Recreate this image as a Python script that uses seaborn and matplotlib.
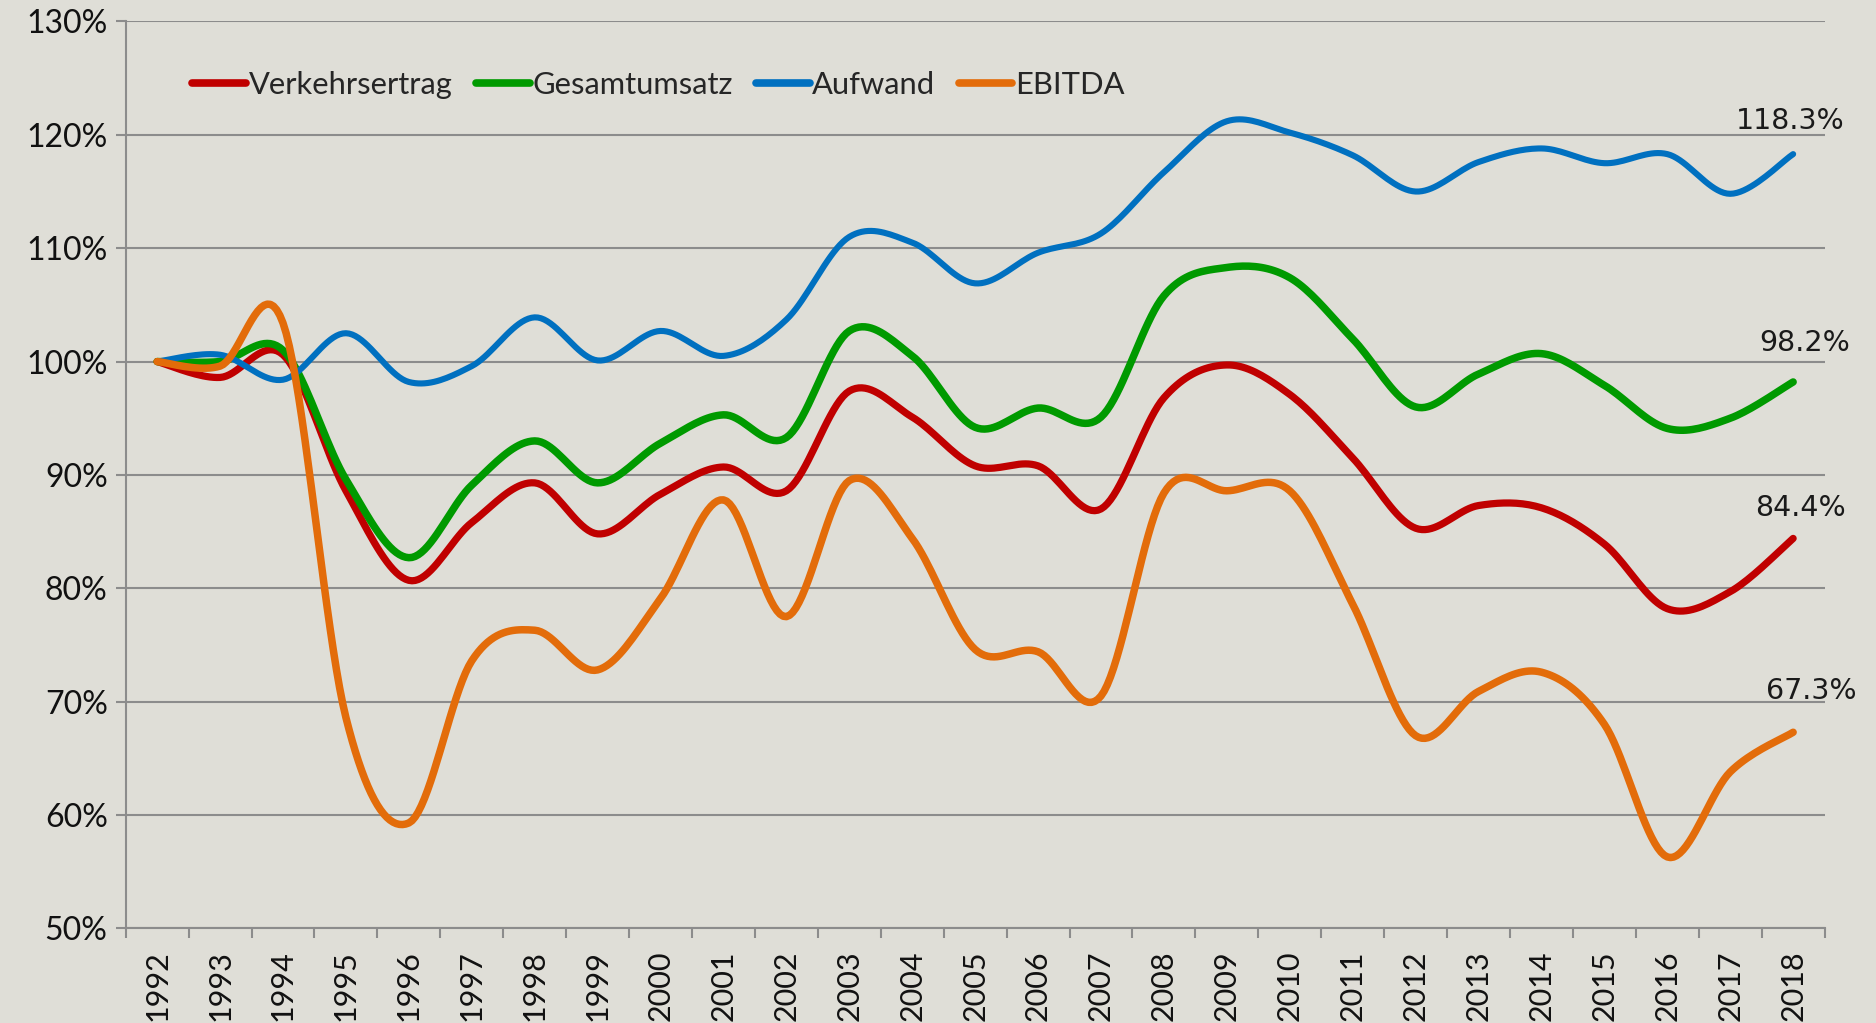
import numpy as np
import pandas as pd
import matplotlib
matplotlib.use("Agg")
import matplotlib.pyplot as plt
import seaborn as sns
from matplotlib.ticker import FixedLocator, FuncFormatter

# data (index, 1992 = 100%)
years = list(range(1992, 2019))
verkehrsertrag = [100.0, 98.6, 100.6, 88.6, 80.7, 85.8, 89.3, 84.8, 88.3, 90.7, 88.6, 97.4, 95.1, 90.8,
                  90.8, 87.0, 96.8, 99.7, 97.1, 91.5, 85.3, 87.3, 87.1, 83.9, 78.2, 79.7, 84.4]
gesamtumsatz = [100.0, 100.0, 101.0, 89.6, 82.7, 89.1, 93.0, 89.3, 92.8, 95.3, 93.3, 102.7, 100.5, 94.2,
                95.9, 95.1, 105.8, 108.3, 107.4, 102.0, 96.0, 98.9, 100.7, 97.9, 94.1, 95.0, 98.2]
aufwand = [100.0, 100.6, 98.4, 102.5, 98.2, 99.6, 103.9, 100.1, 102.7, 100.5, 103.7, 111.0, 110.5, 106.9,
           109.6, 111.3, 116.7, 121.2, 120.2, 118.2, 115.0, 117.6, 118.8, 117.5, 118.3, 114.8, 118.3]
ebitda = [100.0, 99.6, 103.4, 68.6, 59.3, 73.6, 76.3, 72.8, 79.1, 87.8, 77.5, 89.5, 84.4, 74.6,
          74.4, 70.5, 88.4, 88.6, 88.6, 78.6, 67.0, 70.9, 72.6, 68.0, 56.3, 63.8, 67.3]

series_names = ["Verkehrsertrag", "Gesamtumsatz", "Aufwand", "EBITDA"]
series_values = [verkehrsertrag, gesamtumsatz, aufwand, ebitda]
colors = ["#C00000", "#009A00", "#0070C0", "#E36C0A"]
widths = [5.2, 5.4, 4.4, 5.4]
end_labels = ["84.4%", "98.2%", "118.3%", "67.3%"]
label_offsets = [(5, 22), (8, 28), (-2, 24), (13, 30)]  # points, dx dy

bg = "#DFDED7"
grid_c = "#8C8C8C"


def smooth(y, n=20):
    # Catmull-Rom curve through the points (like Excel "smoothed line")
    y = np.asarray(y, dtype=float)
    x = np.arange(len(y), dtype=float)
    p = np.concatenate([[y[0]], y, [y[-1]]])
    px = np.concatenate([[x[0]], x, [x[-1]]])
    xs, ys = [], []
    for i in range(len(y) - 1):
        t = np.linspace(0, 1, n, endpoint=False)
        for arr, out in ((px, xs), (p, ys)):
            p0, p1, p2, p3 = arr[i], arr[i + 1], arr[i + 2], arr[i + 3]
            out.extend(0.5 * ((2 * p1) + (-p0 + p2) * t + (2 * p0 - 5 * p1 + 4 * p2 - p3) * t ** 2
                              + (-p0 + 3 * p1 - 3 * p2 + p3) * t ** 3))
    xs.append(x[-1])
    ys.append(y[-1])
    return np.array(xs), np.array(ys)


sns.set_theme(style="white")
plt.rcParams["font.family"] = ["Lato", "DejaVu Sans"]

fig = plt.figure(figsize=(18.76, 10.23), dpi=100, facecolor=bg)
ax = fig.add_axes([0.067, 0.0925, 0.9056, 0.8865])
ax.set_facecolor(bg)

for name, vals, c, lw in zip(series_names, series_values, colors, widths):
    sx, sy = smooth(vals)
    df = pd.DataFrame({"x": sx, "y": sy})
    sns.lineplot(data=df, x="x", y="y", color=c, linewidth=lw, ax=ax, label=name,
                 sort=False, estimator=None, solid_capstyle="round")

for vals, lab, off in zip(series_values, end_labels, label_offsets):
    ax.annotate(lab, xy=(len(years) - 1, vals[-1]), xytext=off, textcoords="offset points",
                ha="center", va="center", fontsize=20.5, color="#1A1A1A", family="DejaVu Sans")

ax.set_xlim(-0.5, len(years) - 0.5)
ax.set_ylim(50, 130)
ax.yaxis.set_major_locator(FixedLocator(np.arange(50, 131, 10)))
ax.yaxis.set_major_formatter(FuncFormatter(lambda v, p: f"{int(v)}%"))
ax.set_xticks(range(len(years)))
ax.set_xticklabels([str(y) for y in years], rotation=90)
ax.xaxis.set_minor_locator(FixedLocator(np.arange(-0.5, len(years), 1)))
ax.tick_params(axis="x", which="major", length=0, pad=16, labelsize=22, colors="#111111")
ax.tick_params(axis="x", which="minor", length=7, width=1.5, color=grid_c, direction="out", bottom=True)
ax.tick_params(axis="y", which="major", length=7, width=1.5, color=grid_c, direction="out",
               labelsize=23, labelcolor="#111111", pad=6, left=True)
ax.grid(axis="y", color=grid_c, linewidth=1.5)
ax.grid(axis="x", visible=False)
ax.set_xlabel("")
ax.set_ylabel("")
for s in ["top", "right"]:
    ax.spines[s].set_visible(False)
for s in ["left", "bottom"]:
    ax.spines[s].set_color(grid_c)
    ax.spines[s].set_linewidth(1.5)

leg = ax.legend(loc="center left", bbox_to_anchor=(0.032, 0.93), ncol=4, frameon=False,
                fontsize=22.2, handlelength=1.75, handletextpad=0.08, columnspacing=0.75,
                borderaxespad=0)
for h in leg.get_lines():
    h.set_solid_capstyle("round")
    h.set_linewidth(5.5)

fig.savefig("out.png", dpi=100, facecolor=bg)
